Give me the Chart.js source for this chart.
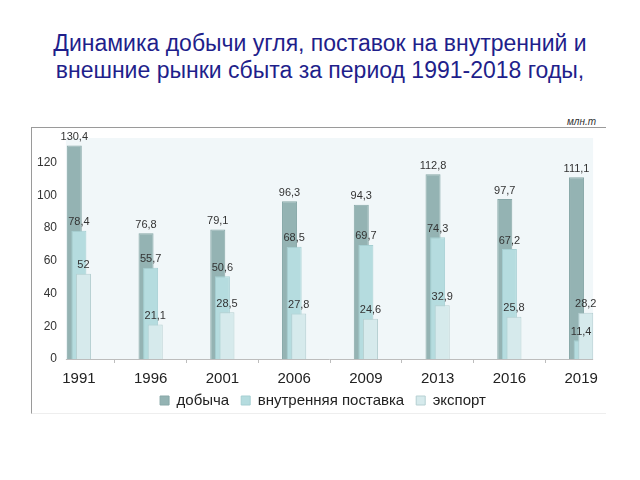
<!DOCTYPE html>
<html>
<head>
<meta charset="utf-8">
<script src="https://cdn.jsdelivr.net/npm/chart.js@4/dist/chart.umd.min.js"></script>
<style>
  body { margin: 0; width: 640px; height: 480px; background: #fff; position: relative; overflow: hidden; }
  #title {
    position: absolute; left: 0; top: 30px; width: 640px; text-align: center;
    font: 23px Arial, "Liberation Sans", sans-serif; line-height: 27px; color: #1f1f8b;
  }
  #frame {
    position: absolute; left: 31px; top: 127px; width: 574px; height: 285px;
    border-top: 1px solid #9a9a9a; border-left: 1px solid #9a9a9a; border-bottom: 1px solid #eee;
  }
  #unit {
    position: absolute; left: 540px; top: 116px; width: 56px; text-align: right;
    font: italic 10px Arial, "Liberation Sans", sans-serif; color: #333;
  }
  #wrap { position: absolute; left: 0; top: 127px; width: 640px; height: 291px; }
</style>
</head>
<body>
<div id="title">Динамика добычи угля, поставок на внутренний и<br>внешние рынки сбыта за период 1991-2018 годы,</div>
<div id="frame"></div>
<div id="unit">млн.т</div>
<div id="wrap"><canvas id="chart" width="640" height="291"></canvas></div>
<script>
const years = ["1991", "1996", "2001", "2006", "2009", "2013", "2016", "2019"];
const mining = [130.4, 76.8, 79.1, 96.3, 94.3, 112.8, 97.7, 111.1];
const domestic = [78.4, 55.7, 50.6, 68.5, 69.7, 74.3, 67.2, 11.4];
const exports = [52, 21.1, 28.5, 27.8, 24.6, 32.9, 25.8, 28.2];
const yTicks = [0, 20, 40, 60, 80, 100, 120];

Chart.defaults.font.family = 'Arial, "Liberation Sans", sans-serif';

const fmt = (v) => String(v).replace(".", ",");

// light plot background and the bottom axis line
const plotBack = {
    id: "plotBack",
    afterLayout(chart) {
        // x axis box is squeezed so the legend sits close; let its labels draw below it
        const xs = chart.scales.x;
        xs.bottom = xs.top + 40;
    },
    beforeDraw(chart) {
        const { ctx, chartArea, scales } = chart;
        const x0 = scales.x.getPixelForValue(0) - 13;
        const x1 = scales.x.getPixelForValue(years.length - 1) + 12;
        ctx.save();
        ctx.fillStyle = "#f1f7f9";
        ctx.fillRect(x0, chartArea.top, x1 - x0, chartArea.bottom - chartArea.top);
        ctx.strokeStyle = "#bdbdbd";
        ctx.lineWidth = 1;
        ctx.beginPath();
        ctx.moveTo(x0, chartArea.bottom + 0.5);
        ctx.lineTo(x1, chartArea.bottom + 0.5);
        ctx.stroke();
        ctx.restore();
    },
};

// first dataset at the back, last one in front
const drawInOrder = {
    id: "drawInOrder",
    beforeDatasetsDraw(chart) {
        chart.getSortedVisibleDatasetMetas().forEach((meta) => {
            if (chart._drawDataset) chart._drawDataset(meta);
            else meta.controller.draw();
        });
        return false;
    },
};

const valueLabels = {
    id: "valueLabels",
    afterDraw(chart) {
        const { ctx } = chart;
        ctx.save();
        ctx.font = "11px Arial, 'Liberation Sans', sans-serif";
        ctx.fillStyle = "#333";
        ctx.textAlign = "center";
        ctx.textBaseline = "bottom";
        chart.data.datasets.forEach((ds, i) => {
            chart.getDatasetMeta(i).data.forEach((bar, j) => {
                ctx.fillText(fmt(ds.data[j]), bar.x, bar.y - 3);
            });
        });
        ctx.restore();
    },
};

const barStyle = { categoryPercentage: 0.192, barPercentage: 3.27 };

new Chart(document.getElementById("chart"), {
    type: "bar",
    data: {
        labels: years,
        datasets: [
            { label: "добыча", data: mining, backgroundColor: "#94b3b3", borderColor: "#88a8a8", borderWidth: 1, ...barStyle },
            { label: "внутренняя поставка", data: domestic, backgroundColor: "#b5dcdf", borderColor: "#a5cfd2", borderWidth: 1, ...barStyle },
            { label: "экспорт", data: exports, backgroundColor: "#d6eaec", borderColor: "#b6d0d2", borderWidth: 1, ...barStyle },
        ],
    },
    options: {
        responsive: false,
        animation: false,
        layout: { padding: { left: 29, right: 23, top: 11, bottom: 0 } },
        plugins: {
            legend: {
                position: "bottom",
                labels: { boxWidth: 9, boxHeight: 9, padding: 12, color: "#222", font: { size: 15 } },
            },
            title: { display: false },
            tooltip: { enabled: false },
        },
        scales: {
            x: {
                offset: true,
                border: { display: false },
                afterFit(scale) { scale.height = 22; },
                grid: {
                    offset: true,
                    drawOnChartArea: false,
                    drawTicks: true,
                    tickLength: 4,
                    // only the inner category boundaries get a tick mark
                    color: (c) => (c.type !== "tick" || c.index === 0 ? "rgba(0,0,0,0)" : "#bdbdbd"),
                },
                ticks: { color: "#222", font: { size: 15 }, padding: 7 },
            },
            y: {
                min: 0,
                max: 135,
                border: { display: false },
                grid: { display: false },
                afterFit(scale) { scale.width = 14; },
                afterBuildTicks(scale) { scale.ticks = yTicks.map((v) => ({ value: v })); },
                ticks: { color: "#333", font: { size: 12 }, mirror: true, crossAlign: "far", padding: -6 },
            },
        },
    },
    plugins: [plotBack, drawInOrder, valueLabels],
});
</script>
</body>
</html>
